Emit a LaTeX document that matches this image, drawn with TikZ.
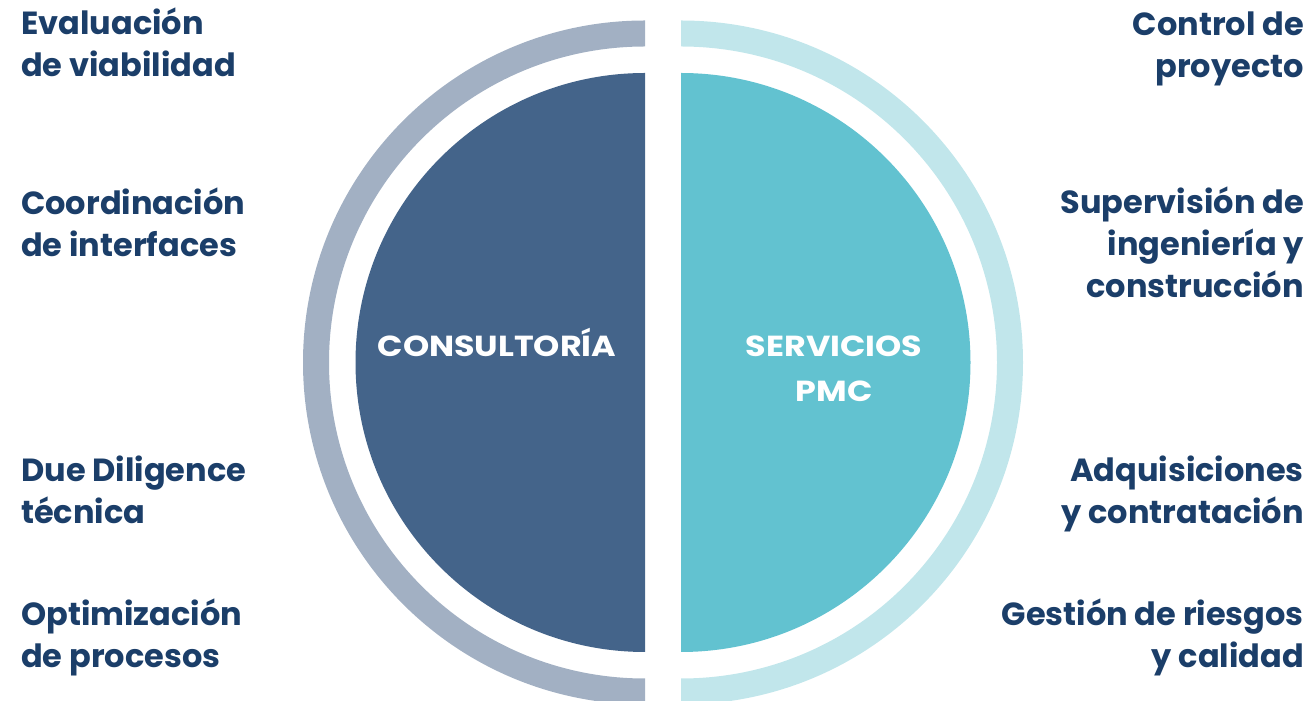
\documentclass[tikz,border=0pt]{standalone}
\usepackage{fontspec}
\setmainfont{Poppins}
\definecolor{leftdisc}{HTML}{44648A}
\definecolor{leftring}{HTML}{A2B0C3}
\definecolor{rightdisc}{HTML}{62C2D0}
\definecolor{rightring}{HTML}{C1E6EB}
\definecolor{navy}{HTML}{1B3E69}
\begin{document}
\begin{tikzpicture}[x=1pt,y=1pt,
  sidelabel/.style={inner sep=0pt, text=navy, font=\fontsize{32}{42}\selectfont\bfseries},
  leftlabel/.style={sidelabel, anchor=base west, align=left},
  rightlabel/.style={sidelabel, anchor=base east, align=right},
  centerlabel/.style={inner sep=0pt, text=white, font=\fontsize{29}{45}\selectfont\bfseries\addfontfeatures{FakeStretch=1.15}, align=center}]
\useasboundingbox (0,0) rectangle (1310,701);
\clip (0,0) rectangle (1310,701);
\coordinate (lc) at (645,338.5);
\coordinate (rc) at (681,338.5);
% left half
\fill[leftring] ([shift={(90:342)}]lc) arc[start angle=90,end angle=270,radius=342]
  -- ([shift={(270:316)}]lc) arc[start angle=270,end angle=90,radius=316] -- cycle;
\fill[leftdisc] ([shift={(90:289.5)}]lc) arc[start angle=90,end angle=270,radius=289.5] -- cycle;
% right half
\fill[rightring] ([shift={(90:342)}]rc) arc[start angle=90,end angle=-90,radius=342]
  -- ([shift={(-90:316)}]rc) arc[start angle=-90,end angle=90,radius=316] -- cycle;
\fill[rightdisc] ([shift={(90:289.5)}]rc) arc[start angle=90,end angle=-90,radius=289.5] -- cycle;
% center labels
\node[centerlabel, anchor=base] (cons) at (497,701-357) {CONSULTORÍA};
\node[centerlabel, anchor=base] (pmc) at (834,701-402) {SERVICIOS\\PMC};
% left labels (anchor at last line baseline)
\node[leftlabel] (l1) at (21,701-77) {Evaluación\\de viabilidad};
\node[leftlabel] (l2) at (21,701-257) {Coordinación\\de interfaces};
\node[leftlabel] (l3) at (21,701-524) {Due Diligence\\técnica};
\node[leftlabel] (l4) at (21,701-668) {Optimización\\de procesos};
% right labels
\node[rightlabel] (r1) at (1304,701-78) {Control de\\proyecto};
\node[rightlabel] (r2) at (1304,701-298) {Supervisión de\\ingeniería y\\construcción};
\node[rightlabel] (r3) at (1304,701-524) {Adquisiciones\\y contratación};
\node[rightlabel] (r4) at (1304,701-668) {Gestión de riesgos\\y calidad};
\end{tikzpicture}
\end{document}
